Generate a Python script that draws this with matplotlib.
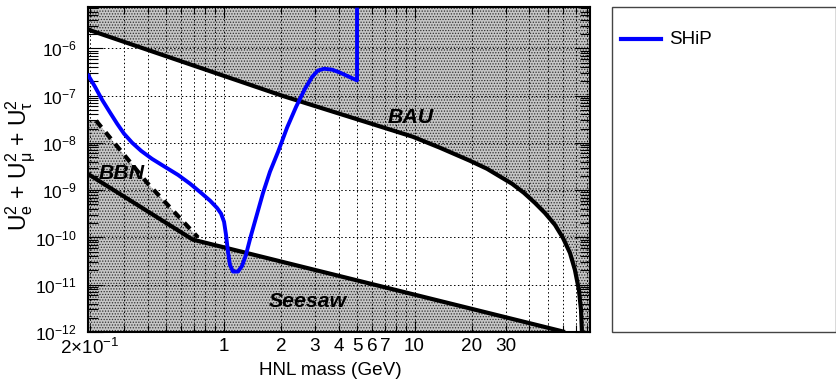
import numpy as np
import matplotlib.pyplot as plt
from matplotlib.ticker import FixedLocator, FuncFormatter, LogLocator, NullFormatter
from matplotlib.patches import Rectangle
from matplotlib.lines import Line2D

plt.rcParams['font.family'] = ['Liberation Sans', 'DejaVu Sans']
plt.rcParams['mathtext.fontset'] = 'custom'
plt.rcParams['mathtext.rm'] = 'Liberation Sans'
plt.rcParams['mathtext.it'] = 'Liberation Sans:italic'
plt.rcParams['mathtext.bf'] = 'Liberation Sans:bold'
plt.rcParams['hatch.linewidth'] = 0.6

# SHiP sensitivity, HNL mass (GeV) vs U^2
ship_m = [0.196, 0.212, 0.231, 0.2545, 0.277, 0.301, 0.332, 0.370, 0.422, 0.494,
          0.578, 0.668, 0.762, 0.850, 0.925, 0.970, 1.006, 1.03, 1.055, 1.08,
          1.12, 1.19, 1.25, 1.31, 1.39, 1.50, 1.61, 1.75, 1.93, 2.15,
          2.40, 2.67, 2.91, 3.12, 3.36, 3.70, 4.07, 5.0, 5.0]
ship_u2 = [2.65e-7, 1.55e-7, 8.2e-8, 4.37e-8, 2.55e-8, 1.57e-8, 1.01e-8, 6.8e-9, 4.6e-9, 3.1e-9,
           2.1e-9, 1.37e-9, 8.8e-10, 6.0e-10, 4.2e-10, 3.2e-10, 2.14e-10, 1.14e-10, 4.96e-11, 2.63e-11,
           1.9e-11, 1.9e-11, 2.5e-11, 4.3e-11, 1.08e-10, 3.2e-10, 8.8e-10, 2.46e-9, 6.5e-9, 2.1e-8,
           5.85e-8, 1.4e-7, 2.5e-7, 3.4e-7, 3.7e-7, 3.55e-7, 3.07e-7, 2.1e-7, 6.6e-6]

# baryon asymmetry upper bound
bau_m = [0.195, 2.02, 9.8, 13.6, 19.5, 23.97, 28.0, 32.4, 37.4, 42.7,
         48.2, 54.4, 59.9, 65.2, 69.2, 72.6, 74.5, 75.3]
bau_u2 = [2.5e-6, 1.0e-7, 1.35e-8, 7.9e-9, 4.2e-9, 2.84e-9, 1.95e-9, 1.37e-9, 8.8e-10, 5.4e-10,
          3.3e-10, 1.85e-10, 9.8e-11, 4.7e-11, 2.06e-11, 7.8e-12, 2.9e-12, 1e-12]

# seesaw lower bound
see_m = [0.195, 0.69, 61.4]
see_u2 = [2.2e-9, 9e-11, 1e-12]

# BBN bound
bbn_m = [0.215, 0.398, 0.735]
bbn_u2 = [2.95e-8, 1.43e-9, 1.0e-10]

xmin, xmax = 0.195, 83.0
ymin, ymax = 1e-12, 7.5e-6

fig = plt.figure(figsize=(8.37, 3.80), dpi=100)
ax = fig.add_axes([88 / 837, 1 - 332 / 380, 502 / 837, 325 / 380])
ax.set_xscale('log')
ax.set_yscale('log')
ax.set_xlim(xmin, xmax)
ax.set_ylim(ymin, ymax)

shade = dict(facecolor='#c6c6c6', edgecolor='#303030', hatch='......', linewidth=0, zorder=1)
# excluded regions
ax.fill(bau_m + [xmax, xmax, xmin], bau_u2 + [ymin, ymax, ymax], **shade)
ax.fill(see_m + [xmin], see_u2 + [ymin], **shade)
ax.fill([xmin] + bbn_m + [see_m[1], xmin],
        [bbn_u2[0]] + bbn_u2 + [see_u2[1], see_u2[0]], **shade)

ax.plot(bau_m, bau_u2, color='black', lw=3, zorder=3, solid_capstyle='butt')
ax.plot(see_m, see_u2, color='black', lw=3, zorder=3, solid_capstyle='butt')
ax.plot(bbn_m, bbn_u2, color='black', lw=3, zorder=3, dashes=(2, 1.6))
ax.plot(ship_m, ship_u2, color='#0000ff', lw=2.8, zorder=4, solid_joinstyle='round')

lab = dict(fontsize=15.3, fontweight='bold', fontstyle='italic', ha='center', va='center', zorder=5)
ax.text(9.6, 3.4e-8, 'BAU', **lab)
ax.text(0.294, 2.3e-9, 'BBN', **lab)
ax.text(2.75, 4.5e-12, 'Seesaw', **lab)

# axis ticks
xlabels = {0.2: r'$\mathrm{2×10^{-1}}$', 1: '1', 2: '2', 3: '3', 4: '4', 5: '5',
           6: '6', 7: '7', 10: '10', 20: '20', 30: '30'}
ax.xaxis.set_major_locator(FixedLocator([1, 10]))
ax.xaxis.set_minor_locator(FixedLocator([0.2, 0.3, 0.4, 0.5, 0.6, 0.7, 0.8, 0.9,
                                         2, 3, 4, 5, 6, 7, 8, 9,
                                         20, 30, 40, 50, 60, 70, 80]))
fmt = FuncFormatter(lambda v, p: next((s for k, s in xlabels.items() if abs(v - k) < 1e-6 * k), ''))
ax.xaxis.set_major_formatter(fmt)
ax.xaxis.set_minor_formatter(fmt)
ax.yaxis.set_major_locator(LogLocator(base=10, numticks=20))
ax.yaxis.set_minor_locator(LogLocator(base=10, subs=np.arange(2, 10), numticks=20))
ax.yaxis.set_minor_formatter(NullFormatter())

ax.tick_params(which='both', direction='in', top=True, right=True, labelsize=13.6, width=0.8)
ax.tick_params(axis='x', which='major', length=8, pad=4)
ax.tick_params(axis='x', which='minor', length=5, pad=4)
ax.tick_params(axis='y', which='major', length=11, pad=8, labelsize=12.5)
ax.tick_params(axis='y', which='minor', length=7)

gl = dict(color='black', lw=0.7, ls=(0, (1.5, 2.5)))
ax.grid(axis='x', which='both', **gl)
ax.grid(axis='y', which='major', **gl)
for s in ax.spines.values():
    s.set_linewidth(1.5)

ax.set_xlabel('HNL mass (GeV)', fontsize=13.6)
ax.xaxis.set_label_coords(0.482, -0.092)
ax.set_ylabel(r'U$_{\mathrm{e}}^{2}$ + U$_{\mathrm{μ}}^{2}$ + U$_{\mathrm{τ}}^{2}$', fontsize=16.5)
ax.yaxis.set_label_coords(-0.099, 0.515)

# legend box
fig.add_artist(Rectangle((612 / 837, 1 - 332 / 380), 224 / 837, 325 / 380,
                         transform=fig.transFigure, fill=False, ec='#444444', lw=1))
fig.add_artist(Line2D([621 / 837, 661 / 837], [1 - 39 / 380] * 2,
                      transform=fig.transFigure, color='#0000ff', lw=3))
fig.text(669 / 837, 1 - 39 / 380, 'SHiP', va='center', ha='left', fontsize=13.6)

fig.savefig('out.png', dpi=100)
